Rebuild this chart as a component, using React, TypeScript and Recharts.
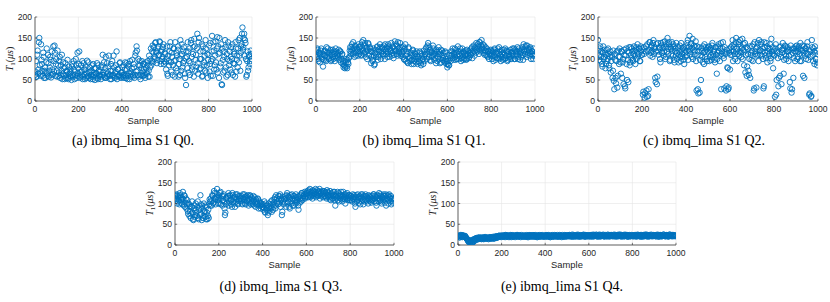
import React from 'react';
import { ScatterChart, Scatter, XAxis, YAxis, CartesianGrid } from 'recharts';

const xTicks = [0, 200, 400, 600, 800, 1000];
const yTicks = [0, 50, 100, 150, 200];
const SAMPLE_STEP = 4;
const SECOND_OFFSET = 2;

const captions = [
  '(a) ibmq_lima S1 Q0.',
  '(b) ibmq_lima S1 Q1.',
  '(c) ibmq_lima S1 Q2.',
  '(d) ibmq_lima S1 Q3.',
  '(e) ibmq_lima S1 Q4.',
];

// samples 0,4,8,...,996
const q0 = [
  62, 95, 58, 120, 75, 150, 68, 135, 88, 60, 105, 72, 55, 92, 66, 110, 58, 80, 98, 62, 75, 130, 70, 115, 88,
  72, 120, 60, 95, 55, 85, 110, 65, 78, 52, 90, 62, 70, 55, 82, 60, 68, 50, 88, 58, 75, 62, 100, 55, 115,
  65, 118, 58, 85, 70, 52, 90, 62, 75, 55, 96, 60, 68, 80, 52, 72, 58, 88, 62, 50, 78, 66, 55, 85, 60,
  70, 52, 85, 110, 62, 58, 78, 55, 90, 65, 108, 60, 72, 52, 95, 62, 80, 55, 70, 118, 58, 75, 62, 92, 55,
  68, 58, 85, 62, 92, 55, 75, 60, 88, 52, 70, 65, 98, 58, 80, 62, 115, 130, 72, 100, 58, 85, 62, 95, 70,
  60, 88, 55, 78, 65, 95, 72, 58, 100, 85, 118, 92, 128, 105, 140, 115, 98, 130, 110, 140, 88, 122, 105, 135, 95,
  112, 75, 130, 60, 95, 118, 140, 70, 105, 85, 125, 58, 98, 115, 72, 130, 88, 62, 108, 135, 80, 120, 95, 55, 38,
  105, 140, 68, 125, 90, 145, 75, 112, 58, 130, 98, 82, 160, 65, 150, 100, 78, 135, 60, 118, 92, 72, 125, 85, 55,
  110, 70, 138, 95, 155, 60, 120, 85, 142, 75, 152, 130, 55, 115, 90, 40, 125, 68, 105, 145, 80, 112, 62, 132, 95,
  75, 128, 100, 62, 118, 88, 140, 70, 108, 125, 92, 150, 115, 135, 175, 128, 160, 145, 100, 62, 118, 80, 105, 95, 112,
];
// samples 2,6,10,...,998
const q0b = [
  70, 58, 110, 65, 140, 85, 60, 98, 72, 115, 55, 80, 68, 125, 60, 90, 72, 105, 56, 118, 64, 95, 132, 60, 100,
  58, 85, 68, 105, 62, 72, 52, 92, 60, 80, 55, 72, 98, 52, 65, 75, 58, 82, 62, 95, 52, 70, 85, 60, 78,
  88, 55, 70, 62, 95, 58, 75, 52, 82, 66, 58, 92, 55, 70, 62, 85, 52, 68, 78, 58, 65, 90, 52, 72, 62,
  58, 80, 62, 68, 92, 55, 105, 70, 58, 82, 62, 52, 88, 60, 72, 108, 58, 66, 85, 52, 76, 60, 90, 58, 68,
  80, 62, 55, 75, 60, 90, 52, 82, 66, 95, 58, 78, 62, 88, 55, 108, 70, 120, 62, 85, 95, 52, 78, 60, 88,
  75, 62, 92, 70, 85, 58, 108, 80, 125, 95, 132, 115, 100, 138, 118, 90, 125, 108, 142, 95, 118, 100, 128, 88, 115,
  92, 100, 65, 108, 85, 130, 92, 115, 62, 125, 95, 140, 78, 108, 122, 58, 100, 145, 72, 112, 90, 128, 65, 102, 118,
  78, 118, 95, 62, 138, 105, 82, 128, 148, 72, 110, 125, 90, 140, 75, 118, 100, 58, 130, 85, 108, 145, 68, 112, 98,
  132, 88, 60, 118, 100, 140, 75, 108, 92, 125, 68, 112, 150, 82, 135, 38, 98, 118, 72, 128, 58, 100, 140, 85, 118,
  105, 68, 135, 90, 112, 58, 125, 98, 80, 145, 108, 72, 130, 160, 122, 150, 108, 138, 58, 95, 72, 110, 88, 120, 100,
];

const q1 = [
  118, 105, 122, 95, 112, 108, 125, 100, 82, 110, 120, 98, 128, 105, 115, 102, 118, 95, 110, 122, 100, 112, 106, 118, 108,
  115, 122, 108, 118, 100, 112, 95, 85, 78, 92, 82, 98, 88, 105, 128, 118, 135, 112, 125, 105, 130, 115, 122, 108, 128,
  118, 132, 110, 125, 145, 115, 138, 105, 128, 120, 135, 112, 125, 90, 118, 98, 108, 88, 122, 112, 130, 105, 118, 135, 100,
  115, 128, 108, 122, 135, 112, 125, 118, 130, 105, 122, 138, 115, 128, 110, 142, 120, 132, 108, 125, 115, 138, 112, 128, 105,
  118, 98, 135, 95, 112, 90, 125, 102, 115, 88, 108, 120, 95, 112, 100, 118, 88, 105, 92, 115, 85, 108, 98, 120, 95,
  110, 128, 118, 138, 105, 122, 95, 115, 108, 125, 98, 112, 90, 118, 105, 128, 100, 112, 92, 120, 102, 108, 95, 115, 88,
  80, 95, 85, 102, 118, 110, 125, 98, 115, 105, 122, 100, 130, 112, 108, 118, 102, 125, 98, 115, 108, 120, 100, 112, 118,
  105, 120, 110, 128, 115, 132, 108, 125, 138, 118, 130, 112, 140, 122, 145, 128, 115, 132, 120, 110, 125, 105, 118, 112, 108,
  120, 100, 115, 108, 125, 98, 112, 118, 102, 128, 110, 95, 122, 105, 115, 100, 125, 108, 118, 98, 112, 105, 122, 100, 115,
  108, 125, 100, 118, 112, 128, 105, 120, 98, 115, 122, 110, 135, 118, 128, 105, 132, 115, 122, 108, 125, 112, 118, 100, 108,
];
const q1b = [
  110, 125, 100, 115, 92, 120, 105, 112, 98, 118, 108, 95, 115, 125, 100, 110, 122, 98, 115, 105, 118, 95, 125, 102, 112,
  105, 98, 118, 92, 110, 88, 80, 95, 82, 100, 78, 92, 102, 120, 112, 128, 122, 140, 115, 132, 108, 125, 118, 135, 112,
  128, 108, 140, 120, 112, 132, 118, 125, 100, 138, 108, 128, 118, 105, 95, 125, 85, 115, 105, 128, 98, 122, 110, 128, 118,
  125, 112, 132, 100, 118, 128, 105, 135, 112, 125, 118, 108, 130, 102, 125, 118, 135, 112, 140, 118, 128, 108, 122, 115, 130,
  100, 125, 108, 118, 92, 128, 105, 95, 110, 98, 122, 88, 115, 105, 92, 108, 100, 95, 118, 90, 112, 100, 88, 105, 112,
  125, 100, 132, 112, 128, 98, 118, 105, 132, 112, 118, 102, 122, 95, 112, 118, 90, 122, 108, 98, 115, 92, 118, 100, 95,
  88, 85, 110, 95, 108, 118, 102, 112, 125, 98, 115, 108, 118, 100, 125, 95, 112, 105, 118, 100, 112, 98, 122, 108, 102,
  115, 110, 125, 102, 120, 118, 128, 115, 122, 135, 125, 140, 118, 132, 125, 135, 122, 110, 128, 118, 108, 120, 100, 115, 122,
  108, 118, 95, 122, 105, 115, 102, 125, 112, 100, 118, 105, 112, 98, 122, 110, 102, 120, 95, 118, 108, 100, 115, 108, 125,
  118, 100, 122, 108, 118, 100, 125, 112, 118, 105, 128, 98, 120, 112, 132, 122, 110, 125, 118, 128, 100, 118, 108, 125, 112,
];

const q2 = [
  145, 110, 125, 95, 118, 82, 130, 105, 115, 88, 122, 100, 112, 78, 118, 95, 105, 72, 48, 112, 55, 95, 32, 120, 88,
  105, 65, 118, 92, 40, 110, 30, 125, 50, 98, 115, 85, 128, 102, 118, 95, 130, 108, 122, 100, 135, 112, 125, 95, 118,
  110, 15, 128, 8, 118, 25, 135, 12, 122, 140, 115, 132, 105, 145, 128, 55, 118, 40, 138, 110, 125, 92, 132, 115, 140,
  118, 142, 105, 128, 150, 112, 135, 98, 125, 140, 108, 130, 92, 118, 138, 100, 125, 110, 132, 95, 120, 105, 128, 88, 115,
  130, 108, 145, 120, 155, 112, 138, 125, 100, 132, 118, 142, 25, 110, 18, 128, 98, 50, 120, 92, 115, 135, 105, 122, 95,
  118, 130, 105, 125, 98, 138, 112, 120, 92, 128, 65, 115, 135, 108, 125, 28, 118, 140, 102, 128, 112, 35, 80, 28, 115,
  75, 128, 110, 145, 118, 135, 100, 150, 125, 112, 140, 118, 130, 105, 148, 122, 85, 138, 110, 60, 125, 72, 100, 55, 115,
  130, 95, 25, 140, 118, 32, 128, 110, 145, 120, 135, 108, 125, 30, 140, 115, 102, 130, 118, 108, 125, 95, 148, 112, 78,
  120, 10, 135, 50, 115, 35, 128, 60, 105, 122, 138, 65, 112, 130, 100, 125, 118, 108, 45, 132, 20, 115, 55, 125, 95,
  118, 132, 105, 125, 112, 138, 95, 120, 60, 130, 108, 125, 115, 140, 98, 15, 118, 10, 145, 110, 125, 88, 115, 100, 85,
];
const q2b = [
  120, 98, 130, 105, 88, 115, 100, 122, 78, 110, 95, 125, 85, 105, 68, 110, 55, 120, 28, 98, 42, 118, 60, 105, 125,
  92, 118, 55, 100, 122, 35, 108, 88, 118, 45, 128, 92, 110, 125, 98, 112, 120, 88, 128, 115, 108, 125, 95, 130, 110,
  125, 22, 112, 18, 130, 10, 118, 28, 140, 108, 128, 120, 138, 112, 125, 45, 135, 58, 118, 128, 100, 138, 115, 125, 108,
  128, 100, 135, 118, 125, 140, 95, 128, 112, 120, 135, 98, 125, 108, 115, 130, 92, 118, 105, 138, 112, 125, 98, 122, 105,
  118, 138, 98, 128, 120, 135, 105, 148, 122, 110, 128, 95, 130, 28, 118, 20, 108, 125, 105, 130, 88, 118, 128, 100, 125,
  128, 95, 122, 110, 132, 105, 118, 98, 128, 110, 100, 130, 118, 95, 138, 112, 125, 108, 30, 115, 25, 122, 78, 32, 125,
  110, 118, 132, 95, 128, 112, 140, 118, 95, 135, 108, 145, 115, 125, 100, 135, 118, 68, 128, 82, 112, 62, 130, 110, 98,
  118, 135, 30, 112, 125, 108, 138, 95, 122, 110, 140, 118, 100, 35, 128, 108, 138, 92, 125, 112, 135, 102, 118, 128, 110,
  108, 125, 15, 118, 102, 55, 112, 130, 40, 115, 125, 98, 132, 108, 118, 128, 95, 122, 30, 110, 28, 125, 102, 118, 130,
  125, 100, 118, 130, 95, 122, 110, 132, 115, 55, 125, 100, 130, 112, 122, 18, 105, 12, 128, 95, 118, 130, 100, 120, 92,
];

const q3 = [
  118, 110, 122, 105, 115, 98, 120, 108, 112, 128, 95, 118, 102, 88, 108, 75, 98, 82, 65, 92, 78, 60, 95, 72, 85,
  70, 105, 62, 90, 120, 75, 95, 65, 100, 80, 68, 92, 62, 85, 98, 105, 112, 95, 118, 102, 125, 110, 115, 135, 108,
  120, 100, 128, 112, 95, 118, 105, 72, 98, 115, 110, 125, 102, 118, 108, 92, 120, 112, 100, 115, 105, 122, 98, 110, 118,
  105, 118, 98, 112, 122, 100, 115, 108, 120, 95, 110, 118, 102, 112, 98, 108, 115, 92, 105, 100, 110, 95, 102, 88, 98,
  92, 85, 105, 78, 95, 88, 72, 100, 82, 98, 90, 108, 85, 102, 115, 95, 112, 105, 118, 100, 122, 108, 72, 115, 98,
  110, 118, 92, 125, 105, 115, 88, 120, 100, 112, 118, 95, 108, 122, 102, 115, 85, 110, 120, 105, 125, 112, 118, 128, 115,
  122, 130, 115, 128, 135, 118, 125, 112, 130, 122, 128, 115, 132, 120, 125, 135, 118, 128, 122, 115, 130, 118, 125, 112, 128,
  120, 115, 130, 108, 125, 118, 112, 128, 95, 122, 115, 108, 125, 118, 112, 120, 105, 128, 115, 110, 122, 118, 108, 115, 120,
  112, 118, 105, 122, 110, 115, 92, 120, 108, 115, 102, 118, 112, 105, 122, 98, 115, 110, 118, 105, 112, 120, 108, 115, 102,
  118, 110, 122, 105, 115, 95, 120, 112, 125, 108, 118, 100, 115, 122, 110, 118, 95, 112, 120, 108, 115, 105, 98, 112, 105,
];
const q3b = [
  112, 120, 100, 118, 108, 125, 102, 115, 98, 110, 120, 92, 112, 98, 82, 100, 70, 92, 75, 105, 62, 88, 68, 100, 78,
  92, 65, 85, 72, 98, 60, 88, 70, 82, 95, 62, 78, 70, 65, 110, 95, 105, 120, 100, 130, 112, 98, 125, 115, 100,
  112, 125, 98, 118, 108, 122, 88, 78, 112, 102, 118, 95, 120, 110, 98, 125, 105, 115, 92, 122, 110, 100, 118, 105, 112,
  112, 100, 122, 108, 115, 98, 118, 105, 112, 102, 120, 98, 115, 105, 118, 95, 102, 110, 98, 112, 88, 105, 95, 100, 92,
  98, 90, 80, 100, 85, 95, 78, 92, 88, 105, 80, 98, 92, 110, 88, 120, 102, 98, 110, 118, 92, 112, 80, 105, 110,
  102, 112, 120, 100, 118, 92, 112, 105, 122, 95, 108, 118, 100, 115, 108, 95, 118, 102, 112, 125, 108, 118, 122, 112, 125,
  118, 125, 132, 120, 115, 128, 120, 132, 118, 125, 135, 122, 118, 128, 130, 112, 125, 120, 130, 125, 118, 128, 115, 132, 118,
  125, 110, 118, 122, 112, 128, 120, 108, 118, 112, 128, 118, 105, 122, 128, 110, 118, 112, 122, 100, 115, 125, 112, 120, 108,
  118, 108, 115, 112, 120, 100, 115, 105, 122, 110, 115, 98, 122, 115, 108, 118, 105, 122, 108, 115, 100, 112, 118, 105, 112,
  108, 122, 112, 118, 102, 112, 118, 105, 112, 122, 105, 115, 108, 118, 102, 122, 110, 118, 100, 122, 112, 118, 110, 102, 112,
];

const q4 = [
  20, 22, 18, 24, 21, 19, 23, 20, 22, 18, 15, 12, 8, 10, 6, 9, 5, 12, 14, 10, 15, 17, 13, 16, 18,
  15, 18, 14, 17, 16, 19, 15, 18, 16, 17, 14, 18, 16, 19, 17, 15, 18, 16, 20, 18, 21, 19, 22, 20, 21,
  22, 20, 23, 21, 19, 24, 22, 20, 23, 21, 22, 19, 24, 21, 20, 23, 22, 21, 24, 20, 22, 23, 19, 21, 22,
  21, 23, 20, 22, 24, 21, 19, 22, 23, 20, 21, 24, 22, 20, 23, 21, 19, 22, 24, 21, 20, 23, 22, 21, 20,
  22, 24, 21, 20, 23, 22, 19, 21, 24, 22, 20, 23, 21, 22, 24, 20, 21, 23, 22, 19, 24, 21, 22, 20, 23,
  21, 23, 22, 24, 20, 22, 25, 21, 23, 20, 22, 24, 21, 23, 22, 20, 24, 22, 21, 25, 23, 20, 22, 24, 21,
  23, 22, 20, 24, 22, 25, 21, 23, 22, 24, 20, 23, 25, 22, 21, 24, 22, 23, 20, 24, 22, 21, 25, 23, 22,
  22, 24, 21, 23, 25, 22, 20, 23, 24, 21, 22, 25, 23, 20, 22, 24, 21, 23, 22, 24, 20, 22, 23, 21, 24,
  23, 21, 24, 22, 20, 23, 25, 22, 21, 24, 23, 20, 22, 24, 21, 23, 25, 22, 20, 23, 24, 22, 21, 23, 22,
  22, 24, 21, 23, 25, 22, 20, 24, 23, 21, 22, 25, 23, 21, 24, 22, 20, 23, 25, 22, 21, 24, 22, 23, 21,
];
const q4b = [
  22, 19, 23, 21, 24, 20, 22, 19, 21, 17, 14, 10, 7, 12, 8, 5, 10, 7, 12, 15, 13, 16, 14, 18, 15,
  17, 15, 18, 16, 14, 17, 19, 16, 18, 15, 17, 19, 15, 17, 18, 20, 16, 19, 21, 17, 19, 22, 20, 23, 19,
  21, 23, 20, 22, 24, 20, 21, 23, 19, 22, 24, 21, 20, 22, 23, 19, 21, 24, 22, 20, 23, 21, 24, 22, 20,
  23, 20, 22, 21, 19, 23, 22, 24, 21, 22, 23, 20, 21, 24, 22, 19, 23, 21, 20, 23, 22, 24, 20, 22, 23,
  20, 22, 23, 24, 21, 19, 23, 22, 20, 21, 24, 22, 23, 20, 21, 22, 24, 20, 23, 21, 22, 20, 24, 23, 21,
  23, 21, 24, 22, 23, 21, 20, 24, 22, 23, 21, 22, 25, 20, 23, 22, 21, 23, 24, 22, 20, 24, 23, 21, 22,
  21, 24, 23, 22, 20, 23, 24, 22, 25, 21, 23, 22, 20, 24, 23, 22, 25, 21, 22, 23, 21, 24, 22, 20, 24,
  24, 22, 23, 21, 22, 24, 23, 21, 22, 25, 23, 21, 24, 22, 23, 21, 25, 22, 24, 20, 23, 24, 21, 23, 22,
  21, 23, 22, 24, 22, 21, 23, 24, 22, 20, 24, 23, 21, 22, 25, 22, 21, 24, 23, 21, 22, 25, 23, 21, 24,
  23, 21, 24, 22, 20, 23, 24, 22, 21, 23, 25, 22, 21, 24, 22, 23, 21, 25, 22, 24, 23, 21, 24, 22, 23,
];

const BLUE = '#0072BD';
const AXIS = '#262626';
const SANS = "'Liberation Sans', Arial, Helvetica, sans-serif";
const SERIF = "'Liberation Serif', 'Times New Roman', Times, serif";

function Marker(props: any) {
  const { cx, cy } = props;
  if (cx == null || cy == null) return null;
  return <circle cx={cx} cy={cy} r={2.7} fill="none" stroke={BLUE} strokeWidth={0.9} />;
}

function XTick(props: any) {
  const { x, y, payload } = props;
  return (
    <g>
      <line x1={x} y1={y} x2={x} y2={y - 2.2} stroke={AXIS} strokeWidth={0.6} />
      <text x={x} y={y + 11} textAnchor="middle" fontSize={8.6} fill={AXIS} fontFamily={SANS}>
        {payload.value}
      </text>
    </g>
  );
}

function YTick(props: any) {
  const { x, y, payload } = props;
  return (
    <g>
      <line x1={x} y1={y} x2={x + 2.2} y2={y} stroke={AXIS} strokeWidth={0.6} />
      <text x={x - 3} y={y + 3} textAnchor="end" fontSize={8.6} fill={AXIS} fontFamily={SANS}>
        {payload.value}
      </text>
    </g>
  );
}

function XLabel(props: any) {
  const vb = props.viewBox || {};
  return (
    <text x={vb.x + vb.width / 2} y={vb.y + 22.5} textAnchor="middle" fontSize={9.4} fill={AXIS} fontFamily={SANS}>
      Sample
    </text>
  );
}

function YLabel(props: any) {
  const vb = props.viewBox || {};
  const cx = vb.x + vb.width - 25.5;
  const cy = vb.y + vb.height / 2;
  return (
    <text
      transform={`rotate(-90 ${cx} ${cy})`}
      x={cx}
      y={cy + 3.5}
      textAnchor="middle"
      fontSize={10}
      fill={AXIS}
      fontFamily={SERIF}
    >
      <tspan fontStyle="italic">T</tspan>
      <tspan fontSize={7} dy={2}>1</tspan>
      <tspan dy={-2}>(</tspan>
      <tspan fontStyle="italic">μs</tspan>
      <tspan>)</tspan>
    </text>
  );
}

function Panel({ values, values2, L, R, T, B }: { values: number[]; values2: number[]; L: number; R: number; T: number; B: number }) {
  const data = [
    ...values.map((v, i) => ({ x: i * SAMPLE_STEP, y: v })),
    ...values2.map((v, i) => ({ x: i * SAMPLE_STEP + SECOND_OFFSET, y: v })),
  ];
  const ml = 40;
  const mr = 10;
  const mt = 17;
  const xh = 30;
  const width = R - L + ml + mr;
  const height = B - T + mt + xh;
  return (
    <div style={{ position: 'absolute', left: L - ml, top: T - mt, width, height }}>
      <ScatterChart width={width} height={height} margin={{ top: mt, right: mr, bottom: 0, left: 0 }}>
        <CartesianGrid stroke="#e4e4e4" strokeWidth={0.6} />
        <XAxis
          type="number"
          dataKey="x"
          domain={[0, 1000]}
          ticks={xTicks}
          interval={0}
          tickSize={0}
          tickMargin={0}
          tickLine={false}
          axisLine={{ stroke: AXIS, strokeWidth: 0.7 }}
          height={xh}
          tick={<XTick />}
          label={(p: any) => <XLabel {...p} />}
          allowDataOverflow
        />
        <YAxis
          type="number"
          dataKey="y"
          domain={[0, 200]}
          ticks={yTicks}
          interval={0}
          tickSize={0}
          tickMargin={0}
          tickLine={false}
          axisLine={{ stroke: AXIS, strokeWidth: 0.7 }}
          width={ml}
          tick={<YTick />}
          label={(p: any) => <YLabel {...p} />}
          allowDataOverflow
        />
        <Scatter data={data} shape={<Marker />} isAnimationActive={false} />
      </ScatterChart>
    </div>
  );
}

function Caption({ text, cx, cy }: { text: string; cx: number; cy: number }) {
  return (
    <div
      style={{
        position: 'absolute',
        left: cx - 100,
        top: cy - 8,
        width: 200,
        textAlign: 'center',
        fontFamily: SERIF,
        fontSize: 14,
        lineHeight: '16px',
        color: '#000',
        whiteSpace: 'nowrap',
      }}
    >
      {text}
    </div>
  );
}

export default function App() {
  return (
    <div style={{ position: 'absolute', left: 0, top: 0, width: 830, height: 302, background: '#fff', overflow: 'hidden' }}>
      <Panel values={q0} values2={q0b} L={35} R={252} T={17} B={101} />
      <Panel values={q1} values2={q1b} L={316} R={535} T={17} B={101} />
      <Panel values={q2} values2={q2b} L={598} R={818} T={17} B={101} />
      <Panel values={q3} values2={q3b} L={175} R={394} T={162} B={245} />
      <Panel values={q4} values2={q4b} L={458} R={676} T={162} B={245} />
      <Caption text={captions[0]} cx={133} cy={141} />
      <Caption text={captions[1]} cx={424} cy={141} />
      <Caption text={captions[2]} cx={704} cy={141} />
      <Caption text={captions[3]} cx={281} cy={287} />
      <Caption text={captions[4]} cx={562} cy={287} />
    </div>
  );
}
